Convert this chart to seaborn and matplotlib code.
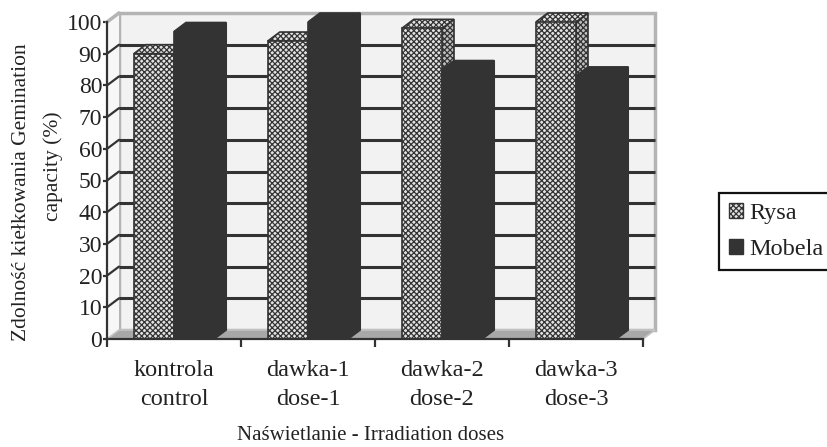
import numpy as np
import pandas as pd
import matplotlib
matplotlib.use("Agg")
import matplotlib.pyplot as plt
import seaborn as sns
from matplotlib.patches import Polygon, Rectangle, Patch
from matplotlib.transforms import IdentityTransform, offset_copy

# ---- data -------------------------------------------------------------
categories = ["kontrola\ncontrol", "dawka-1\ndose-1", "dawka-2\ndose-2", "dawka-3\ndose-3"]
series = ["Rysa", "Mobela"]
rysa = [90, 94, 98, 100]
mobela = [97, 100, 85, 83]
yticks = list(range(0, 101, 10))

df = pd.DataFrame({
    "dose": categories * 2,
    "odmiana": [series[0]] * len(rysa) + [series[1]] * len(mobela),
    "value": rysa + mobela,
})

# ---- style ------------------------------------------------------------
sns.set_theme(style="white")
plt.rcParams["font.family"] = ["Liberation Serif", "DejaVu Serif"]
plt.rcParams["hatch.linewidth"] = 0.9

DARK = "#333333"
TEXT = "#222222"
WALL = "#f2f2f2"
WALL_EDGE = "#b4b4b4"
FLOOR = "#a8a8a8"
HATCH = "xxxxxx"
LIGHT = "#e2e2e2"

W, H, DPI = 827, 447, 100
fig = plt.figure(figsize=(W / DPI, H / DPI), dpi=DPI)
fig.patch.set_facecolor("white")

# front plane of the 3-D box, in pixels
FX0, FX1, FY0, FY1 = 107, 643, 339, 22
ax = fig.add_axes([FX0 / W, 1 - FY0 / H, (FX1 - FX0) / W, (FY0 - FY1) / H])
DX, DY = 12, 9  # depth of the box (pixels)

sns.barplot(data=df, x="dose", y="value", hue="odmiana", order=categories,
            hue_order=series, palette={"Rysa": LIGHT, "Mobela": DARK},
            width=0.6, saturation=1, edgecolor=DARK, linewidth=1.2,
            legend=False, ax=ax, zorder=5)

ax.set_xlim(-0.5, len(categories) - 0.5)
ax.set_ylim(0, 100)
ax.patch.set_visible(False)

back = offset_copy(ax.transData, fig=fig, x=DX, y=DY, units="dots")
disp = IdentityTransform()

def to_px(x, y):
    return ax.transData.transform((x, y))

xl, xr = -0.5, len(categories) - 0.5

# back wall
ax.add_patch(Rectangle((xl, 0), xr - xl, 100, transform=back, facecolor=WALL,
                       edgecolor=WALL_EDGE, lw=2.5, zorder=1, clip_on=False))
# left side wall
p0, p1 = to_px(xl, 0), to_px(xl, 100)
ax.add_patch(Polygon([p0, p1, p1 + (DX, DY), p0 + (DX, DY)], closed=True,
                     transform=disp, facecolor="#f7f7f7", edgecolor="none",
                     zorder=1, clip_on=False))
ax.plot([p1[0], p1[0] + DX], [p1[1], p1[1] + DY], transform=disp,
        color=WALL_EDGE, lw=2.5, zorder=1.5, clip_on=False)

# grid lines on the back wall and the side wall
for yv in yticks[1:-1]:
    ax.plot([xl, xr], [yv, yv], transform=back, color=DARK, lw=2.2,
            zorder=2, clip_on=False, solid_capstyle="butt")
    q = to_px(xl, yv)
    ax.plot([q[0], q[0] + DX], [q[1], q[1] + DY], transform=disp,
            color=DARK, lw=1.6, zorder=2, clip_on=False)

# floor
f0, f1 = to_px(xl, 0), to_px(xr, 0)
ax.add_patch(Polygon([f0, f1, f1 + (DX, DY), f0 + (DX, DY)], closed=True,
                     transform=disp, facecolor=FLOOR, edgecolor="#c4c4c4",
                     lw=1.2, zorder=3, clip_on=False))

# 3-D faces of the bars
for k, cont in enumerate(ax.containers):
    z = 5 + 2 * k
    for bar in cont:
        bar.set_zorder(z)
        x0b = bar.get_x()
        x1b = x0b + bar.get_width()
        top = bar.get_height()
        bl, tl, tr, br = to_px(x0b, 0), to_px(x0b, top), to_px(x1b, top), to_px(x1b, 0)
        d = np.array([DX, DY])
        if k == 0:
            bar.set_hatch(HATCH)
            face_kw = dict(facecolor=LIGHT, hatch=HATCH)
            side_kw = dict(facecolor="#c0c0c0", hatch=HATCH)
        else:
            face_kw = dict(facecolor=DARK)
            side_kw = dict(facecolor=DARK)
        ax.add_patch(Polygon([br, tr, tr + d, br + d], closed=True, transform=disp,
                             edgecolor=DARK, lw=1.2, zorder=z - 0.5,
                             clip_on=False, **side_kw))
        ax.add_patch(Polygon([tl, tr, tr + d, tl + d], closed=True, transform=disp,
                             edgecolor=DARK, lw=1.2, zorder=z - 0.4,
                             clip_on=False, **face_kw))

# axes, ticks, labels
for s in ["top", "right"]:
    ax.spines[s].set_visible(False)
for s in ["left", "bottom"]:
    ax.spines[s].set_color(DARK)
    ax.spines[s].set_linewidth(1.6)
    ax.spines[s].set_zorder(9)

ax.set_yticks(yticks)
ax.set_yticklabels([str(v) for v in yticks])
ax.tick_params(axis="y", direction="out", length=3, width=1.6, color=DARK,
               pad=0.5, labelsize=17, labelcolor=TEXT, left=True)

ax.set_xticks(np.arange(len(categories) + 1) - 0.5)
ax.set_xticklabels([])
ax.set_xticks(np.arange(len(categories)), minor=True)
ax.set_xticklabels(categories, minor=True, fontsize=17.5, color=TEXT,
                   linespacing=1.5)
ax.tick_params(axis="x", which="major", direction="out", length=6, width=1.6,
               color=DARK, bottom=True)
ax.tick_params(axis="x", which="minor", length=0, pad=15)
ax.set_xlabel("")
ax.set_ylabel("")

fig.text(371 / W, 1 - 440 / H, "Naświetlanie - Irradiation doses", fontsize=15,
         ha="center", va="baseline", color=TEXT)
fig.text(22 / W, 1 - 192 / H, "Zdolność kiełkowania Gemination", fontsize=15.5,
         rotation=90, ha="center", va="center", color=TEXT)
fig.text(53 / W, 1 - 166 / H, "capacity (%)", fontsize=15.5,
         rotation=90, ha="center", va="center", color=TEXT)

handles = [Patch(facecolor=LIGHT, edgecolor=DARK, hatch=HATCH, lw=1.0),
           Patch(facecolor=DARK, edgecolor=DARK, lw=1.0)]
leg = fig.legend(handles, series, loc="upper left",
                 bbox_to_anchor=(719 / W, 1 - 193 / H), fontsize=17.5,
                 frameon=True, fancybox=False, framealpha=1, edgecolor="#111111",
                 handlelength=0.6, handleheight=0.6, handletextpad=0.25,
                 labelspacing=0.6, borderpad=0.4, borderaxespad=0)
leg.get_frame().set_linewidth(1.6)
for t in leg.get_texts():
    t.set_color(TEXT)

fig.savefig("out.png", dpi=DPI)
